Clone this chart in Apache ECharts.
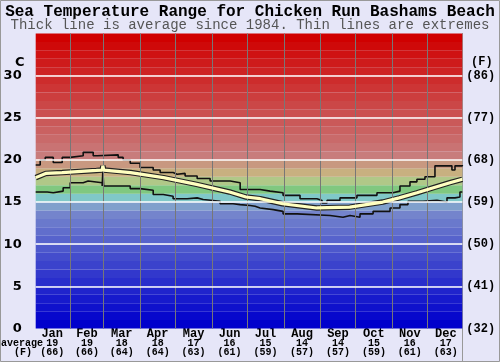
<!DOCTYPE html>
<html><head><meta charset="utf-8">
<script src="https://cdn.jsdelivr.net/npm/echarts@6/dist/echarts.min.js"></script>
<style>html,body{margin:0;padding:0;background:#e6e6f8}#c{width:500px;height:362px}</style>
</head><body><div id="c"></div>
<script>
const months = ['Jan','Feb','Mar','Apr','May','Jun','Jul','Aug','Sep','Oct','Nov','Dec'];
const monthStarts = [0,31,59,90,120,151,181,212,243,273,304,334,365];
const avgC = [19,19,18,18,17,16,15,14,14,15,16,17];
const avgF = [66,66,64,64,63,61,59,57,57,59,61,63];
const yTicksC = [0,5,10,15,20,25,30];

const maxDays  = [1.5,5.3,9.6,16.4,24,30.8,41.8,50.3,53.7,71.5,75.7,81.7,90.1,101.2,107.1,118.1,121.5,128.3,138.5,149.5,166.5,175,191.9,200.4,211.4,225.8,240.2,244.5,248.7,259.7,274.1,291.1,304.7,310.6,319.1,325,331.8,340.3,354.7,357.3,363.5];
const maxTemps = [19.4,20.0,20.3,19.7,20.3,20.5,20.9,20.5,20.6,20.3,20.0,19.6,19.1,18.8,18.5,18.3,18.4,18.1,17.8,17.5,17.3,16.5,16.3,16.1,15.8,15.4,15.2,14.9,15.2,15.5,15.8,16.1,16.3,16.9,17.4,17.7,18.0,19.3,18.8,19.3,19.4];

const minDays  = [1.5,11.3,16.4,24.8,30.8,41.8,46,57.9,58.5,59.2,70.6,81.7,90.1,101.2,109.7,118.1,130,138.5,143.6,158,169,175,183.5,187.7,191.9,203,211.4,223.3,251.3,262.3,268.3,276.7,287.8,302.2,310.6,317.4,330.1,342,350.5,357.3,361.5,363.5];
const minTemps = [16.2,16.1,16.3,16.7,17.3,17.5,17.3,16.9,18.7,16.9,16.9,16.6,16.4,15.9,15.7,15.4,15.5,15.3,15.1,14.8,14.7,14.6,14.5,14.3,14.1,13.9,13.6,13.4,13.2,13.4,13.2,13.6,13.9,14.3,14.7,15.1,15.2,15.0,15.5,15.6,16.2,16.2];

const avgDays  = [1.5,10,24,53,58,58.5,59.2,82,110,138,166,180,192,211,240,268,296,310,325,339,353,363.5];
const avgTemps = [17.9,18.4,18.5,18.75,18.8,19.3,18.8,18.5,17.9,17.1,16.2,15.6,15.4,14.8,14.3,14.4,15.0,15.5,16.1,16.7,17.3,17.7];

const zip = (a,b) => a.map((d,i)=>[d,b[i]]);
const monthMids = months.map((m,i)=>(monthStarts[i]+monthStarts[i+1])/2);

function lerp(a,b,t){return a.map((v,i)=>Math.round(v+(b[i]-v)*t));}
function bandColor(i){
  let c;
  if (i<=13) c = lerp([0,0,204],[116,132,204],Math.pow(i/13,1.1));
  else if (i===14) c=[128,160,204];
  else if (i===15) c=[128,200,200];
  else if (i===16) c=[128,200,128];
  else if (i===17) c=[176,200,136];
  else if (i===18) c=[200,176,128];
  else if (i===19) c=[200,152,128];
  else c = lerp([200,124,124],[208,0,0],(i-20)/14);
  return 'rgb('+c.join(',')+')';
}
const bands = [];
for (let i=0;i<35;i++) bands.push([{yAxis:i,itemStyle:{color:bandColor(i)}},{yAxis:i+1}]);

const mono = 'Liberation Mono';
const chart = echarts.init(document.getElementById('c'));
chart.setOption({
  animation:false,
  backgroundColor:'#e6e6f8',
  title:[
    {text:'Sea Temperature Range for Chicken Run Bashams Beach',left:'center',top:4,padding:0,
     textStyle:{fontFamily:mono,fontWeight:'bold',fontSize:16,lineHeight:16,color:'#000'}},
    {text:'Thick line is average since 1984. Thin lines are extremes',left:'center',top:18,padding:0,
     textStyle:{fontFamily:mono,fontWeight:'normal',fontSize:14,lineHeight:14,color:'#555'}}
  ],
  grid:{left:35.7,right:37.7,top:33.5,bottom:33.5},
  xAxis:{type:'value',min:1.5,max:363.5,
    axisLine:{show:false},axisTick:{show:false},splitLine:{show:false},
    axisLabel:{customValues:monthMids,margin:1,
      formatter:function(v){const i=monthMids.indexOf(v);return '{m|'+months[i]+'}\n{v|'+avgC[i]+'}\n{f|('+avgF[i]+')}';},
      rich:{
        m:{fontFamily:mono,fontWeight:'bold',fontSize:12,lineHeight:9.3,color:'#000'},
        v:{fontFamily:mono,fontWeight:'bold',fontSize:10,lineHeight:9.3,color:'#000'},
        f:{fontFamily:mono,fontWeight:'bold',fontSize:10,lineHeight:9.3,color:'#000'}
      }}
  },
  yAxis:[
    {type:'value',min:0,max:35,interval:5,axisLine:{show:false},axisTick:{show:false},splitLine:{show:false},
     axisLabel:{margin:14,fontFamily:'DejaVu Sans',fontWeight:'bold',fontSize:13,color:'#000',
       formatter:v=>yTicksC.includes(v)?String(v):''}},
    {type:'value',min:0,max:35,interval:5,position:'right',axisLine:{show:false},axisTick:{show:false},splitLine:{show:false},
     axisLabel:{margin:4,fontFamily:mono,fontWeight:'bold',fontSize:12,color:'#000',
       formatter:v=>yTicksC.includes(v)?'('+Math.round(v*1.8+32)+')':''}}
  ],
  series:[
    {type:'line',data:[],z:1,silent:true,markArea:{silent:true,data:bands}},
    {type:'line',data:[],z:2,silent:true,markLine:{silent:true,symbol:['none','none'],label:{show:false},animation:false,
      data:[
        ...monthStarts.slice(1,12).map(d=>({xAxis:d,lineStyle:{color:'#777777',width:1,type:'solid'}})),
        ...yTicksC.slice(1).map(v=>({yAxis:v,lineStyle:{color:'#ffffff',width:1.5,type:'solid'}}))
      ]}},
    {name:'max',type:'line',step:'end',data:zip(maxDays,maxTemps),symbol:'none',z:3,lineStyle:{color:'#111',width:1.6}},
    {name:'min',type:'line',step:'end',data:zip(minDays,minTemps),symbol:'none',z:3,lineStyle:{color:'#111',width:1.6}},
    {name:'avgOutline',type:'line',data:zip(avgDays,avgTemps),symbol:'none',z:4,lineStyle:{color:'#222',width:5.5}},
    {name:'avg',type:'line',data:zip(avgDays,avgTemps),symbol:'none',z:5,lineStyle:{color:'#ffffc0',width:3.2}}
  ],
  graphic:[
    {type:'text',left:15,top:56,style:{text:'C',font:'bold 13px "DejaVu Sans"',fill:'#000'}},
    {type:'text',left:471,top:56,style:{text:'(F)',font:'bold 12px "Liberation Mono"',fill:'#000'}},
    {type:'text',left:1,top:338,style:{text:'average',font:'bold 10px "Liberation Mono"',fill:'#000'}},
    {type:'text',left:14,top:347,style:{text:'(F)',font:'bold 10px "Liberation Mono"',fill:'#000'}},
    {type:'line',shape:{x1:462.5,y1:33,x2:462.5,y2:362},style:{stroke:'#999',lineWidth:1}},
    {type:'rect',shape:{x:0.5,y:0.5,width:499,height:361},style:{fill:'none',stroke:'#999',lineWidth:1}}
  ]
});
</script></body></html>
